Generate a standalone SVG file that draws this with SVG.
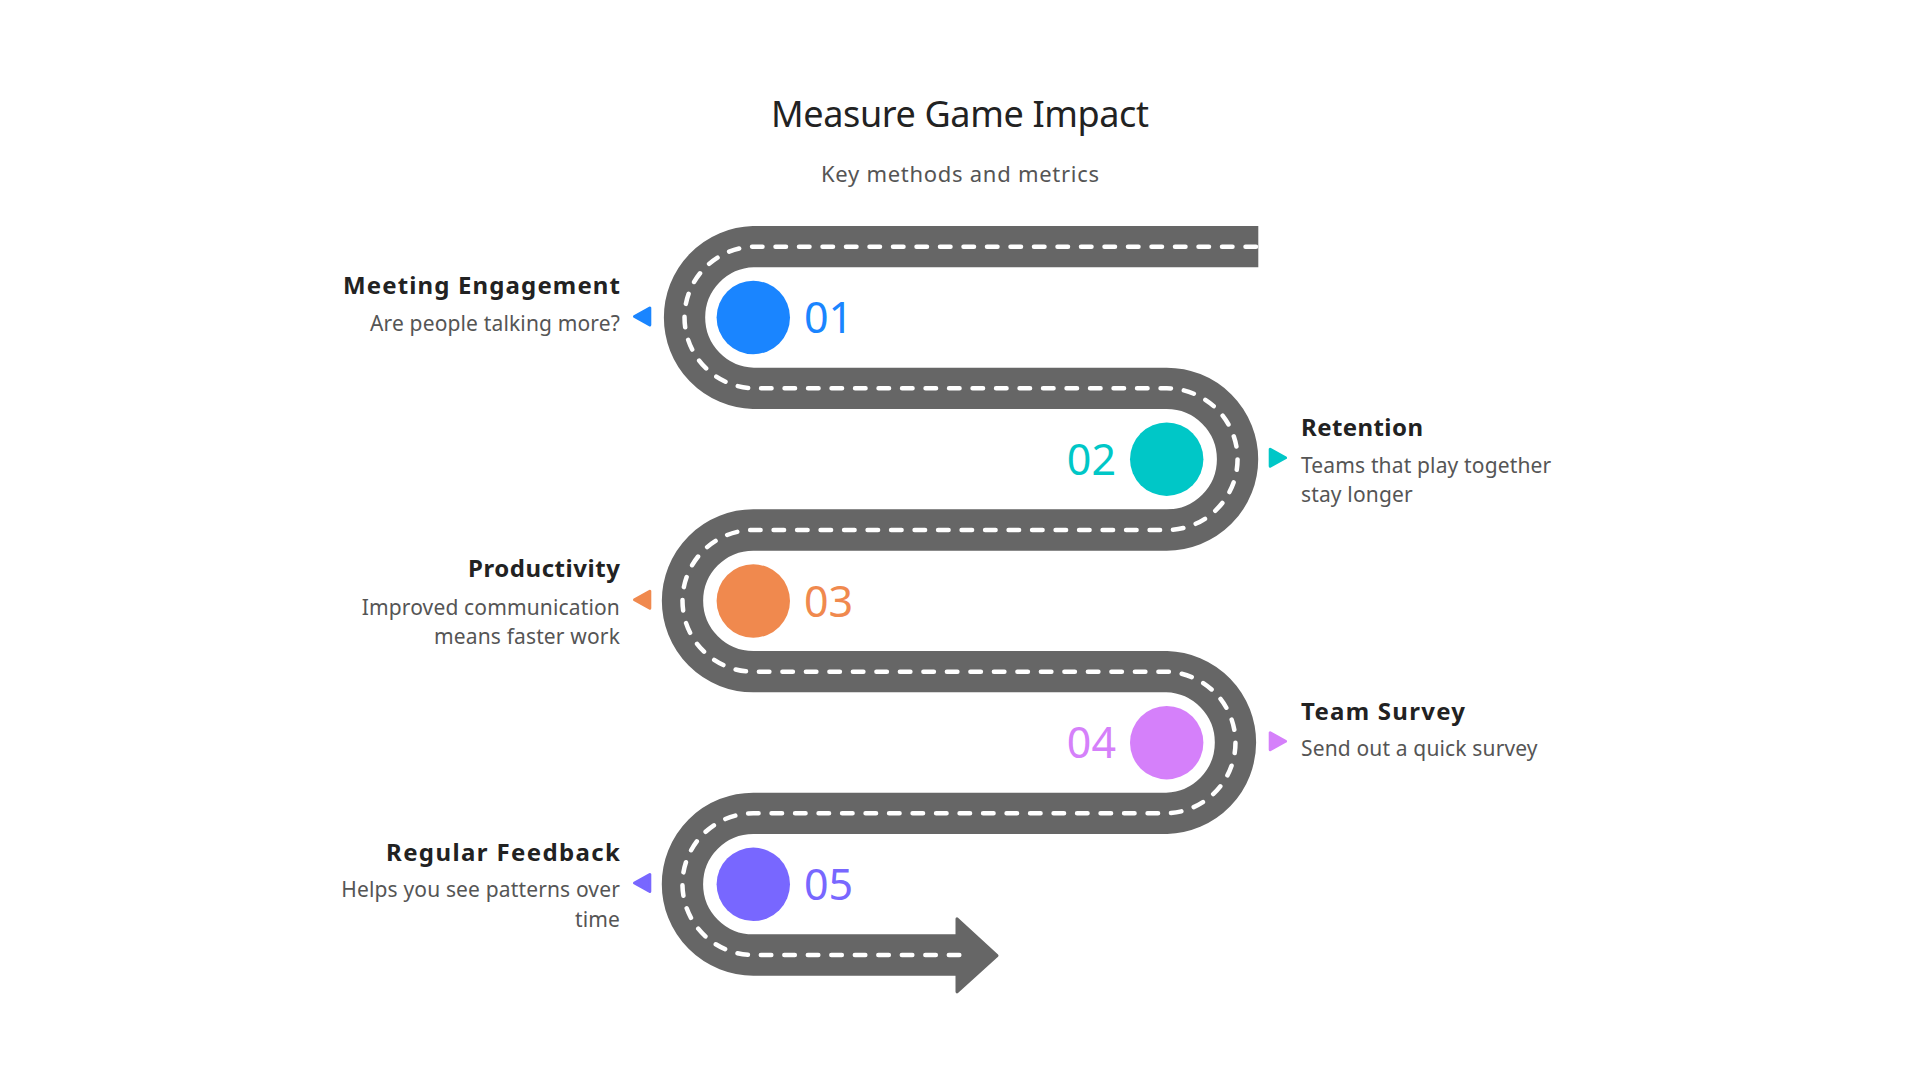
<svg xmlns="http://www.w3.org/2000/svg" width="1920" height="1080" viewBox="0 0 1920 1080">
  <style>
    .title { font-family: "Noto Sans", "Open Sans", sans-serif; font-size: 36px; fill: #222222; }
    .subtitle { font-family: "Noto Sans", "Open Sans", sans-serif; font-size: 22px; fill: #555555; }
    .head { font-family: "Noto Sans", "Open Sans", sans-serif; font-size: 24px; font-weight: bold; fill: #222222; }
    .desc { font-family: "Noto Sans", "Open Sans", sans-serif; font-size: 21px; fill: #555555; letter-spacing: 0.15px; }
    .num { font-family: "Noto Sans", "Open Sans", sans-serif; font-size: 43px; }
    .road { fill: none; stroke: #666666; stroke-width: 41.3; stroke-linecap: butt; }
    .lane { fill: none; stroke: #ffffff; stroke-width: 4.5; stroke-linecap: round; stroke-dasharray: 10.5 13; }
    .ptr { stroke-linejoin: round; stroke-width: 3; }
    .left { text-anchor: end; }
  </style>
  <rect width="1920" height="1080" fill="#ffffff"/>

  <text class="title" x="960" y="126.7" text-anchor="middle" textLength="378" lengthAdjust="spacing">Measure Game Impact</text>
  <text class="subtitle" x="960" y="181.7" text-anchor="middle" textLength="278" lengthAdjust="spacing">Key methods and metrics</text>

  <g id="connectors">
    <path class="road" d="M1258.3 246.7 H753.3 A70.83 70.83 0 0 0 753.3 388.3 H1166.7 A70.83 70.83 0 0 1 1166.7 530 H753.3 A70.83 70.83 0 0 0 753.3 671.7 H1166.7 A70.83 70.83 0 0 1 1166.7 813.3 H753.3 A70.83 70.83 0 0 0 753.3 955 H958"/>
    <path d="M957 918.8 L997 955.7 L957 991.8 Z" fill="#666666" stroke="#666666" stroke-width="3" stroke-linejoin="round"/>
    <path class="lane" d="M1256 246.7 H753.3 A70.83 70.83 0 0 0 753.3 388.3 H1166.7 A70.83 70.83 0 0 1 1166.7 530 H753.3 A70.83 70.83 0 0 0 753.3 671.7 H1166.7 A70.83 70.83 0 0 1 1166.7 813.3 H753.3 A70.83 70.83 0 0 0 753.3 955 H962"/>
  </g>

  <g id="node-01">
    <circle cx="753.3" cy="317.5" r="36.7" fill="#1A85FF"/>
    <text class="num" x="804" y="333" fill="#1A85FF">01</text>
    <path class="ptr" d="M649.8 308 V325 L634.5 316.5 Z" fill="#1A85FF" stroke="#1A85FF"/>
    <text class="head left" x="620" y="294" textLength="277" lengthAdjust="spacing">Meeting Engagement</text>
    <text class="desc left" x="620" y="331">Are people talking more?</text>
  </g>

  <g id="node-02">
    <circle cx="1166.7" cy="459.2" r="36.7" fill="#00C7C7"/>
    <text class="num" x="1116" y="475" fill="#00C7C7" text-anchor="end">02</text>
    <path class="ptr" d="M1270.2 449.3 V466.3 L1285.5 457.8 Z" fill="#00C7C7" stroke="#00C7C7"/>
    <text class="head" x="1301" y="436" textLength="122" lengthAdjust="spacing">Retention</text>
    <text class="desc" x="1301" y="473.3">Teams that play together</text>
    <text class="desc" x="1301" y="502.2">stay longer</text>
  </g>

  <g id="node-03">
    <circle cx="753.3" cy="601" r="36.7" fill="#F0894E"/>
    <text class="num" x="804" y="616.5" fill="#F0894E">03</text>
    <path class="ptr" d="M649.8 591.2 V608.2 L634.5 599.7 Z" fill="#F0894E" stroke="#F0894E"/>
    <text class="head left" x="620" y="577" textLength="152" lengthAdjust="spacing">Productivity</text>
    <text class="desc left" x="620" y="615">Improved communication</text>
    <text class="desc left" x="620" y="643.6">means faster work</text>
  </g>

  <g id="node-04">
    <circle cx="1166.7" cy="742.7" r="36.7" fill="#D580FA"/>
    <text class="num" x="1116" y="758.2" fill="#D580FA" text-anchor="end">04</text>
    <path class="ptr" d="M1270.2 732.8 V749.8 L1285.5 741.3 Z" fill="#D580FA" stroke="#D580FA"/>
    <text class="head" x="1301" y="720" textLength="164" lengthAdjust="spacing">Team Survey</text>
    <text class="desc" x="1301" y="756">Send out a quick survey</text>
  </g>

  <g id="node-05">
    <circle cx="753.3" cy="884.3" r="36.7" fill="#7867FF"/>
    <text class="num" x="804" y="899.6" fill="#7867FF">05</text>
    <path class="ptr" d="M649.8 874.5 V891.5 L634.5 883 Z" fill="#7867FF" stroke="#7867FF"/>
    <text class="head left" x="620" y="860.7" textLength="234" lengthAdjust="spacing">Regular Feedback</text>
    <text class="desc left" x="620" y="897.3">Helps you see patterns over</text>
    <text class="desc left" x="620" y="926.5">time</text>
  </g>
</svg>
